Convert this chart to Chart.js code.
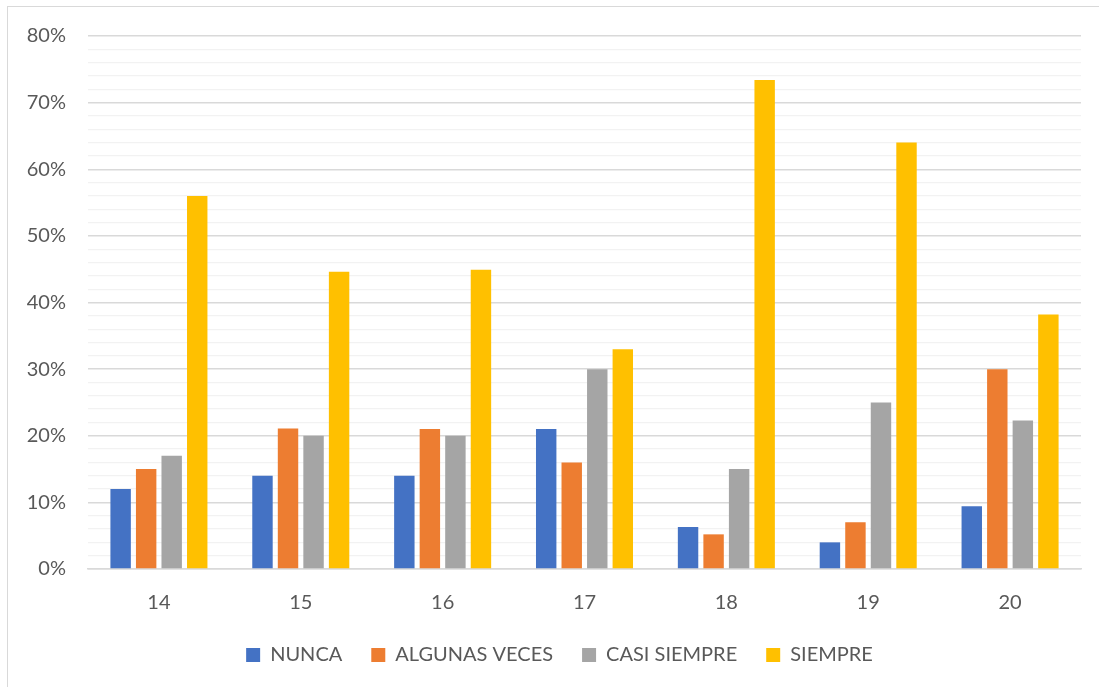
<!DOCTYPE html>
<html>
<head>
<meta charset="utf-8">
<script src="https://cdn.jsdelivr.net/npm/chart.js@4/dist/chart.umd.min.js"></script>
<style>
  html, body { margin: 0; padding: 0; background: #fff; overflow: hidden; }
  #frame {
    position: absolute; left: 7px; top: 6px;
    width: 1100px; height: 690px;
    border: 1px solid #d9d9d9; box-sizing: border-box;
  }
  #box { position: absolute; left: 0; top: -5px; width: 1092px; height: 686px; }
</style>
</head>
<body>
<div id="frame"><div id="box"><canvas id="chart"></canvas></div></div>
<script>
// Item numbers on the x axis
const items = ['14', '15', '16', '17', '18', '19', '20'];

// Share of answers per item (percent)
const nunca        = [12, 14, 14, 21, 6.3, 4, 9.4];
const algunasVeces = [15, 21.1, 21, 16, 5.2, 7, 30];
const casiSiempre  = [17, 20, 20, 30, 15, 25, 22.3];
const siempre      = [56, 44.6, 44.9, 33, 73.4, 64, 38.2];

const yTicks = [0, 10, 20, 30, 40, 50, 60, 70, 80];

const FONT = 'Lato, "Open Sans", sans-serif';
const TEXT = '#595959';

const series = [
  { label: 'NUNCA',          data: nunca,        color: '#4472C4' },
  { label: 'ALGUNAS VECES',  data: algunasVeces, color: '#ED7D31' },
  { label: 'CASI SIEMPRE',   data: casiSiempre,  color: '#A5A5A5' },
  { label: 'SIEMPRE',        data: siempre,      color: '#FFC000' },
];

// legend keeps wide horizontal spacing but sits closer to the axis
const legendNudge = {
  id: 'legendNudge',
  afterLayout(chart) {
    const lg = chart.legend;
    if (!lg) return;
    lg.top -= 13;
    lg.bottom -= 13;
    lg.left += 15;
    lg.right += 15;
  }
};

new Chart(document.getElementById('chart'), {
  type: 'bar',
  plugins: [legendNudge],
  data: {
    labels: items,
    datasets: series.map(s => ({
      label: s.label,
      data: s.data,
      backgroundColor: s.color,
      borderWidth: 0,
      categoryPercentage: 0.72,
      barPercentage: 0.8
    }))
  },
  options: {
    responsive: true,
    maintainAspectRatio: false,
    animation: false,
    layout: { padding: { top: 10, right: 19, left: 0, bottom: 0 } },
    plugins: {
      tooltip: { enabled: false },
      legend: {
        position: 'bottom',
        labels: {
          color: TEXT,
          font: { family: FONT, size: 20 },
          boxWidth: 14,
          boxHeight: 14,
          padding: 29
        }
      }
    },
    scales: {
      x: {
        grid: { display: false },
        border: { color: '#d9d9d9', width: 1.5 },
        ticks: { color: TEXT, font: { family: FONT, size: 20 }, padding: 14 }
      },
      y: {
        min: 0,
        max: 80,
        afterFit: s => { s.width = 80; },
        afterBuildTicks: s => {
          // minor lines every 2%, labels only on yTicks
          const t = [];
          for (let v = 0; v <= 80; v += 2) t.push({ value: v });
          s.ticks = t;
        },
        border: { display: false },
        grid: {
          drawTicks: false,
          color: c => yTicks.includes(c.tick.value) ? '#d9d9d9' : '#f2f2f2',
          lineWidth: c => yTicks.includes(c.tick.value) ? 1.5 : 1.2
        },
        ticks: {
          autoSkip: false,
          color: TEXT,
          font: { family: FONT, size: 20 },
          padding: 22,
          callback: v => yTicks.includes(v) ? v + '%' : ''
        }
      }
    }
  }
});
</script>
</body>
</html>
